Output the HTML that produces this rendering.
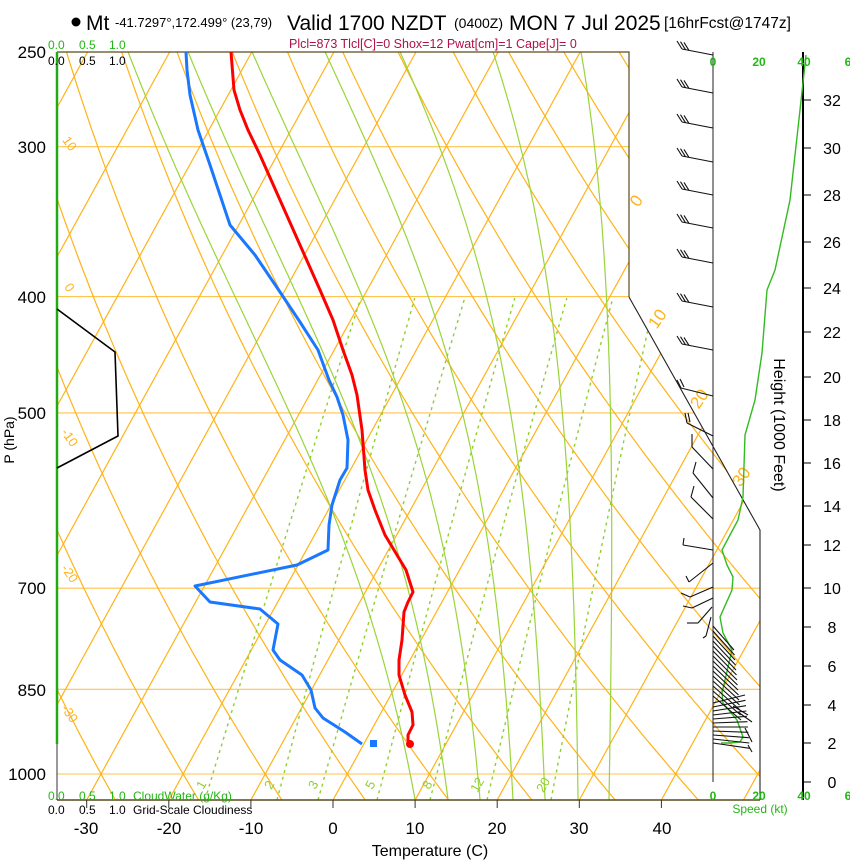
<!DOCTYPE html>
<html><head><meta charset="utf-8">
<style>
html,body{margin:0;padding:0;background:#fff;}
svg{display:block;font-family:"Liberation Sans",sans-serif;}
</style></head>
<body>
<svg id="s" width="850" height="860" viewBox="0 0 850 860" xmlns="http://www.w3.org/2000/svg">
<defs><clipPath id="pc"><polygon points="57,52 629,52 629,297 760,530 760,800 57,800"/></clipPath></defs>
<g id="grid" clip-path="url(#pc)"></g>
<g id="fg"></g>
<circle cx="76" cy="22" r="4.5" fill="#000"/>
<text x="86" y="30" font-size="21">Mt</text>
<text x="115" y="27" font-size="13">-41.7297°,172.499° (23,79)</text>
<text x="287" y="30" font-size="21">Valid 1700 NZDT</text>
<text x="454" y="28" font-size="14">(0400Z)</text>
<text x="509" y="30" font-size="21">MON 7 Jul 2025</text>
<text x="664" y="28" font-size="15.5">[16hrFcst@1747z]</text>
<text x="289" y="48" font-size="12.5" fill="#b0104a">Plcl=873 Tlcl[C]=0 Shox=12 Pwat[cm]=1 Cape[J]= 0</text>
<g font-size="12" fill="#22b814"><text x="48" y="49">0.0</text><text x="79" y="49">0.5</text><text x="109" y="49">1.0</text></g>
<g font-size="12" fill="#000"><text x="48" y="65">0.0</text><text x="79" y="65">0.5</text><text x="109" y="65">1.0</text></g>
<g font-size="12" fill="#22b814"><text x="48" y="800">0.0</text><text x="79" y="800">0.5</text><text x="109" y="800">1.0</text><text x="133" y="800">CloudWater (g/Kg)</text></g>
<g font-size="12" fill="#000"><text x="48" y="814">0.0</text><text x="79" y="814">0.5</text><text x="109" y="814">1.0</text><text x="133" y="814">Grid-Scale Cloudiness</text></g>
<g font-size="17" text-anchor="end"><text x="46" y="58">250</text><text x="46" y="153">300</text><text x="46" y="303">400</text><text x="46" y="419">500</text><text x="46" y="594">700</text><text x="46" y="696">850</text><text x="46" y="780">1000</text></g>
<text transform="translate(14,440) rotate(-90)" font-size="14" text-anchor="middle">P (hPa)</text>
<g font-size="17" text-anchor="middle"><text x="86" y="834">-30</text><text x="169" y="834">-20</text><text x="251" y="834">-10</text><text x="333" y="834">0</text><text x="415" y="834">10</text><text x="497" y="834">20</text><text x="579" y="834">30</text><text x="662" y="834">40</text></g>
<text x="430" y="856" font-size="16" text-anchor="middle">Temperature (C)</text>
<text transform="translate(774,425) rotate(90)" font-size="16" text-anchor="middle">Height (1000 Feet)</text>
<g font-size="12" font-weight="bold" fill="#22b814" text-anchor="middle"><text x="713" y="66">0</text><text x="759" y="66">20</text><text x="804" y="66">40</text><text x="848" y="66">6</text>
<text x="713" y="800">0</text><text x="759" y="800">20</text><text x="804" y="800">40</text><text x="848" y="800">6</text></g>
<text x="760" y="813" font-size="12" fill="#22b814" text-anchor="middle">Speed (kt)</text>
</svg>
<script>
(function(){
var NS="http://www.w3.org/2000/svg";
var grid=document.getElementById("grid"),fg=document.getElementById("fg");
function el(par,tag,at){var e=document.createElementNS(NS,tag);for(var k in at)e.setAttribute(k,at[k]);par.appendChild(e);return e;}
function Y(p){return 774-521*Math.log(1000/p);}
function X(T,y){return 333+8.21*T+0.55*(800-y);}
function pl(par,pts,at){var d="";for(var i=0;i<pts.length;i++)d+=(i?"L":"M")+pts[i][0].toFixed(1)+" "+pts[i][1].toFixed(1);at.d=d;at.fill=at.fill||"none";return el(par,"path",at);}
var OR="#ffb319";
[300,400,500,700,850,1000].forEach(function(p){var y=Y(p);pl(grid,[[57,y],[760,y]],{stroke:"#ffc34d","stroke-width":1.1});});
for(var T=-120;T<=60;T+=10){pl(grid,[[X(T,800),800],[X(T,52),52]],{stroke:OR,"stroke-width":1.2});}
for(var th=-50;th<=200;th+=10){var pts=[];for(var p=1060;p>=240;p-=10){var t=(th+273.15)*Math.pow(p/1000,0.2857)-273.15;var y=Y(p);pts.push([X(t,y),y]);}pl(grid,pts,{stroke:OR,"stroke-width":1.2});}
function es(Tc){return 6.112*Math.exp(17.67*Tc/(Tc+243.5));}
var MB=[415,448,480,513,545,578,609],MT=[128,188,252,325,400,493,581];
for(var i=0;i<7;i++){var T0=10+4*i;var Tk=T0+273.15,pts=[];for(var p=1050;p>=249;p-=2){var y=Y(p);pts.push([X(Tk-273.15,y),y]);var e=es(Tk-273.15),rs=0.622*e/(p-e);var dT=(287*Tk+2.5e6*rs)/(p*(1005+2.5e6*2.5e6*rs*0.622/(287*Tk*Tk)));Tk-=dT*2;}
var y0=pts[0][1],y1=pts[pts.length-1][1];var cb=MB[i]-pts[0][0],ct=MT[i]-pts[pts.length-1][0];
pts=pts.map(function(q){var f=(y0-q[1])/(y0-y1);return [q[0]+cb+(ct-cb)*f,q[1]];});
var dy=800-y0,sl=(pts[5][0]-pts[0][0])/(pts[5][1]-pts[0][1]);pts.unshift([pts[0][0]+sl*dy,800]);
var n=pts.length-1,sl2=(pts[n][0]-pts[n-5][0])/(pts[n][1]-pts[n-5][1]);pts.push([pts[n][0]+sl2*(52-pts[n][1]),52]);
pl(grid,pts,{stroke:"#9ad43a","stroke-width":1.2});}
function Td(p,w){var e=w*p/(622+w);var l=Math.log(e/6.112);return 243.5*l/(17.67-l);}
var W=[1,2,3,5,8,12,20],B=[205,277,318,377,430,487,551],Tp=[361,415,465,515,567,613,655];
W.forEach(function(w,i){var pb=1000*Math.exp(-(774-800)/521),pt=400;var xb=X(Td(pb,w),800),xt=X(Td(pt,w),297);var cb=B[i]-xb,ct=Tp[i]-xt;var pts=[];for(var p=pb;p>=399;p-=5){var y=Y(p);var c=cb+(ct-cb)*(800-y)/503;pts.push([X(Td(p,w),y)+c,y]);}
pl(grid,pts,{stroke:"#8fcf2a","stroke-width":1.4,"stroke-dasharray":"3,4"});});
pl(fg,[[57,52],[629,52],[629,297]],{stroke:"#5a4a1a","stroke-width":1.2});
pl(fg,[[629,297],[760,530],[760,800]],{stroke:"#222","stroke-width":1.1});
pl(fg,[[57,800],[760,800]],{stroke:"#5a4a1a","stroke-width":1.5});
pl(fg,[[57,52],[57,744]],{stroke:"#22aa14","stroke-width":2.5});
pl(fg,[[57,744],[57,800]],{stroke:"#333","stroke-width":1});
[-30,-20,-10,0,10,20,30,40].forEach(function(t){var x=333+8.21*t;pl(fg,[[x,800],[x,808]],{stroke:"#333","stroke-width":1});});
pl(fg,[[57,309],[115,352],[118,436],[57,468]],{stroke:"#000","stroke-width":1.6});
function lab(x,y,s,r,fs,col){var t=el(fg,"text",{x:0,y:0,transform:"translate("+x+","+y+") rotate("+r+")","font-size":fs,fill:col,"text-anchor":"middle"});t.textContent=s;}
lab(66,146,"10",55,13,OR);lab(66,290,"0",55,13,OR);lab(66,440,"-10",55,13,OR);lab(66,576,"-20",55,13,OR);lab(66,716,"-30",55,13,OR);
lab(641,204,"0",-55,17,OR);lab(662,322,"10",-55,17,OR);lab(704,402,"20",-55,17,OR);lab(746,480,"30",-55,17,OR);
var GL="#8fcf2a";
lab(205,787,"1",-60,13,GL);lab(273,787,"2",-60,13,GL);lab(317,787,"3",-60,13,GL);lab(374,787,"5",-60,13,GL);lab(431,787,"8",-60,13,GL);lab(481,787,"12",-60,13,GL);lab(547,787,"20",-60,13,GL);
var Tc=[[231,52],[234,90],[240,110],[248,130],[260,155],[280,200],[300,245],[320,290],[333,320],[343,350],[352,375],[357,395],[362,430],[365,470],[368,490],[375,510],[385,535],[397,555],[406,570],[413,592],[408,602],[404,612],[402,640],[399,660],[399,675],[405,695],[412,712],[413,725],[408,735],[408,741]];
pl(fg,Tc,{stroke:"#f00","stroke-width":3,"stroke-linejoin":"round"});
el(fg,"circle",{cx:410,cy:744,r:4,fill:"#f00"});
var Dc=[[186,52],[187,70],[190,95],[198,130],[210,165],[230,225],[255,255],[280,292],[300,322],[318,350],[329,380],[337,397],[343,415],[348,440],[347,468],[340,480],[332,505],[329,525],[328,550],[297,565],[195,586],[210,602],[260,609],[278,624],[273,650],[280,660],[302,675],[311,690],[315,708],[323,718],[345,732],[362,744]];
pl(fg,Dc,{stroke:"#1a78ff","stroke-width":3,"stroke-linejoin":"round"});
el(fg,"rect",{x:370,y:740,width:7,height:7,fill:"#1a78ff"});
pl(fg,[[713,52],[713,782]],{stroke:"#222","stroke-width":1});
pl(fg,[[803,52],[803,800]],{stroke:"#000","stroke-width":2});
var H=[[0,782],[2,743],[4,705],[6,666],[8,627],[10,588],[12,545],[14,506],[16,463],[18,420],[20,377],[22,332],[24,288],[26,242],[28,195],[30,148],[32,100]];
H.forEach(function(h){pl(fg,[[803,h[1]],[811,h[1]]],{stroke:"#000","stroke-width":1});var t=el(fg,"text",{x:832,y:h[1]+6,"font-size":16,"text-anchor":"middle"});t.textContent=h[0];});
pl(fg,[[806,55],[800,110],[790,200],[775,270],[767,290],[762,353],[755,400],[745,435],[743,497],[738,520],[722,550],[727,565],[733,577],[732,590],[720,617],[723,633],[732,650],[728,667],[722,693],[723,703],[737,720],[743,737],[740,742],[730,743],[721,743]],{stroke:"#33bb22","stroke-width":1.4});
var bs={stroke:"#111","stroke-width":1.1};
[55,93,128,162,195,228,263,307,350].forEach(function(y){pl(fg,[[713,y],[682,y-6]],bs);for(var i=0;i<3;i++){var bx=682+i*3.5,by=y-6+i*0.7;pl(fg,[[bx,by],[bx-5,by-8]],bs);}});
var mid=[[713,396,681,388,[[681,388,677,380],[684,387,680,379]]],[713,436,687,423,[[687,423,685,413],[690,422,688,413]]],[713,469,692,447,[[692,447,692,434]]],[713,498,693,473,[[693,473,696,462]]],[713,519,691,497,[[691,497,694,486]]],[713,550,683,545,[[683,545,684,538]]],[713,563,689,582,[[689,582,686,576]]],[713,587,690,597,[[690,597,681,593]]],[713,598,692,608,[[692,608,683,606]]],[712,607,698,623,[[698,623,687,623]]],[711,617,706,636,[[706,636,703,638]]]];
mid.forEach(function(b){pl(fg,[[b[0],b[1]],[b[2],b[3]]],bs);b[4].forEach(function(f){pl(fg,[[f[0],f[1]],[f[2],f[3]]],bs);});});
for(var y=626;y<=700;y+=5){pl(fg,[[713,y],[734+(y-626)*0.1,y+24]],bs);}
for(var y=703;y<=745;y+=4){var k=(y-703)/42;pl(fg,[[713,y],[745+k*5,y-8+k*14]],bs);}
pl(fg,[[733,706],[748,715]],bs);pl(fg,[[738,712],[752,722]],bs);pl(fg,[[745,728],[752,742]],bs);pl(fg,[[748,745],[752,752]],bs);
})();
</script>
</body></html>
